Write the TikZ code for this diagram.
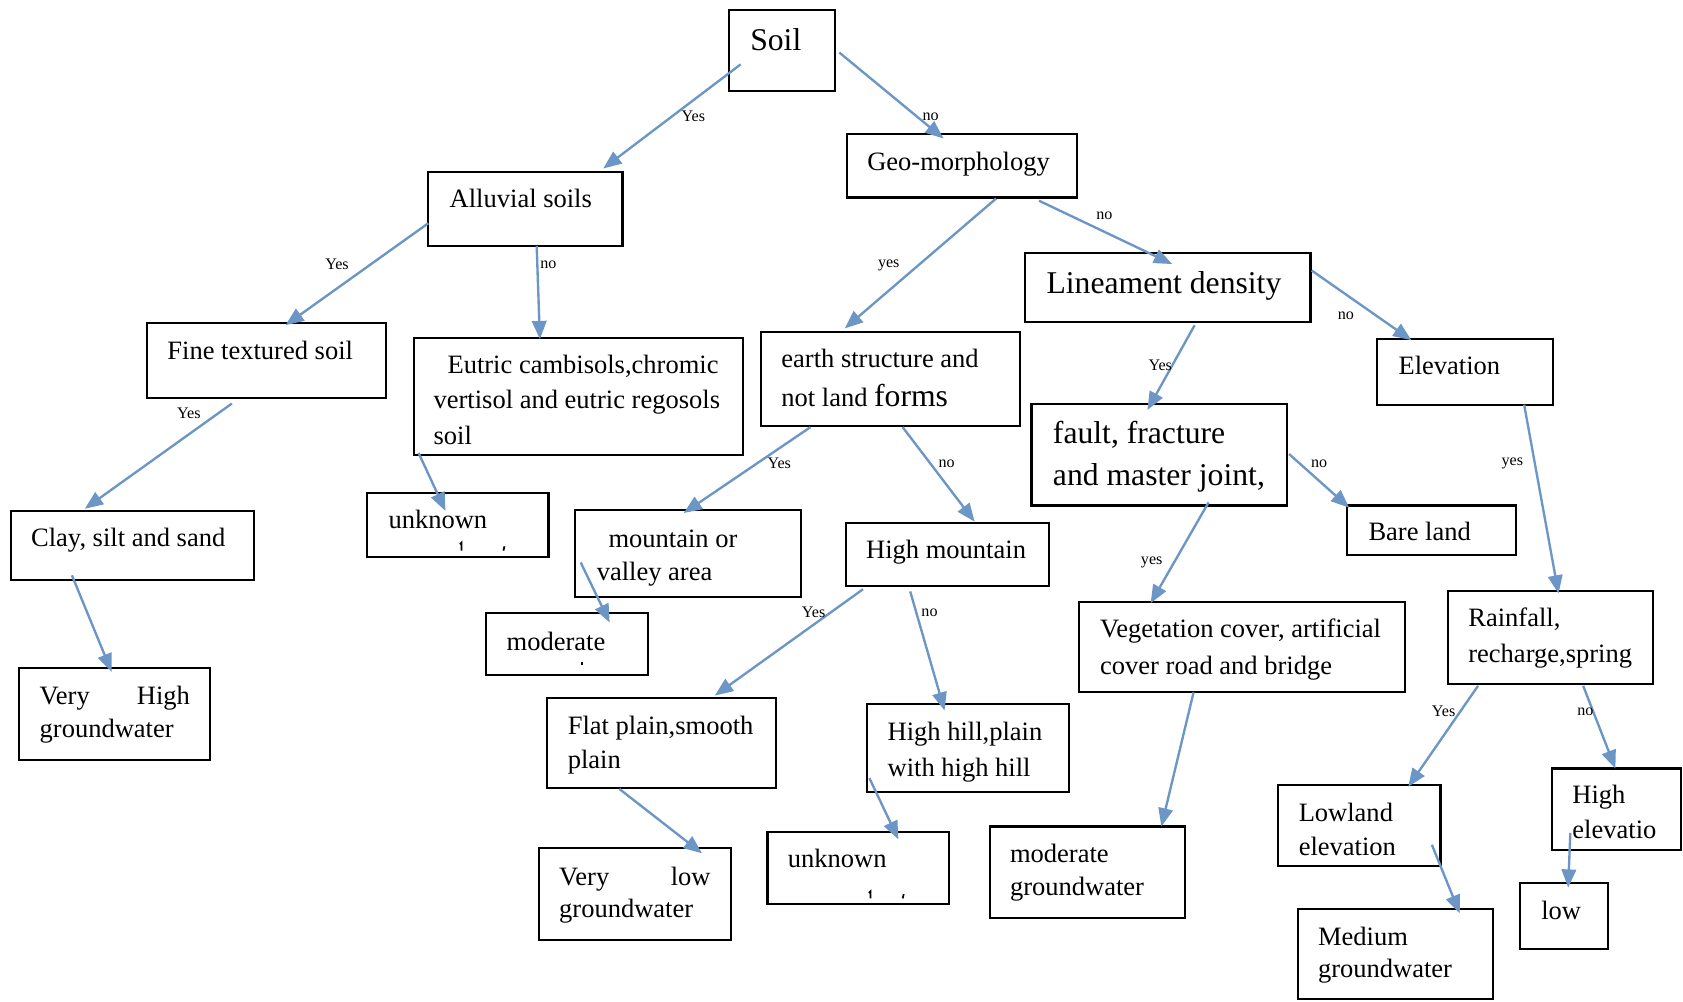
\documentclass[tikz,border=0pt]{standalone}
\usepackage{fontspec}
\setmainfont{Liberation Serif}
\usetikzlibrary{arrows.meta}
\definecolor{arrc}{RGB}{108,150,197}
\newcommand\bx[5]{\node[box,minimum width={(#4-#2)*1pt},minimum height={(#5-#3)*1pt}] (#1) at ({(#2+#4)/2},{(#3+#5)/2}) {};}
\newcommand\tl[4]{\node[txt] (#1) at (#2,#3) {#4};}
\newcommand\tb[4]{\node[bigtxt] (#1) at (#2,#3) {#4};}
\newcommand\ar[5]{\coordinate (#1s) at (#2); \coordinate (#1e) at (#3); \draw[arr] (#1s) -- (#1e); \node[lab] (#1l) at (#4) {#5};}
\newcommand\arn[3]{\coordinate (#1s) at (#2); \coordinate (#1e) at (#3); \draw[arr] (#1s) -- (#1e);}
\begin{document}
\begin{tikzpicture}[x=1pt,y=-1pt,
 box/.style={draw=black,line width=2pt,inner sep=0pt,outer sep=0pt,rectangle},
 txt/.style={inner sep=0pt,outer sep=0pt,font=\fontsize{24.7}{30}\selectfont,anchor=base west},
 bigtxt/.style={txt,font=\fontsize{29.5}{36}\selectfont},
 lab/.style={inner sep=0pt,outer sep=0pt,font=\fontsize{15}{18}\selectfont},
 arr/.style={draw=arrc,line width=2.2pt,-{Triangle[length=17pt,width=13.5pt]}},
 mk/.style={line width=1.6pt}]
\useasboundingbox (0,0) rectangle (1568,933);

% boxes
\bx{soil}{679}{9}{778}{85}
\bx{allu}{399}{160}{580}{229}
\bx{geo}{789}{125}{1003}{184}
\bx{fine}{137}{301}{360}{371}
\bx{eutric}{386}{315}{692}{424}
\bx{earth}{709}{309}{950}{397}
\bx{lin}{955}{236}{1221}{300}
\bx{elev}{1283}{316}{1447}{377}
\bx{fault}{961}{376}{1199}{471}
\bx{clay}{10}{476}{237}{540}
\bx{unkA}{342}{459}{511}{519}
\bx{mount}{536}{475}{746}{556}
\bx{highm}{788}{487}{977}{546}
\bx{bare}{1255}{471}{1412}{517}
\bx{modA}{453}{571}{604}{629}
\bx{veg}{1005}{561}{1309}{645}
\bx{rain}{1349}{551}{1540}{637}
\bx{vhigh}{18}{622}{196}{708}
\bx{flat}{510}{650}{723}{734}
\bx{hill}{808}{656}{996}{738}
\bx{lowl}{1191}{731}{1342}{807}
\bx{helev}{1446}{716}{1566}{792}
\bx{unkB}{715}{775}{884}{842}
\bx{modB}{922}{770}{1104}{855}
\bx{vlow}{502}{790}{681}{876}
\bx{med}{1209}{847}{1391}{931}
\bx{low}{1416}{823}{1498}{884}

% texts
\tb{tsoil}{699}{47}{Soil}
\tl{tallu}{419}{193}{Alluvial soils}
\tl{tgeo}{808}{159}{Geo-morphology}
\tl{tfine}{156}{335}{Fine textured soil}
\tl{teu1}{417}{348}{Eutric cambisols,chromic}
\tl{teu2}{404}{381}{vertisol and eutric regosols}
\tl{teu3}{404}{414}{soil}
\tl{tea1}{728}{342}{earth structure and}
\tl{tea2}{728}{379}{not land {\fontsize{29.5}{36}\selectfont forms}}
\tb{tlin}{975}{273}{Lineament density}
\tl{telev}{1303}{349}{Elevation}
\tb{tfa1}{981}{413}{fault, fracture}
\tb{tfa2}{981}{452}{and master joint,}
\tl{tclay}{29}{509}{Clay, silt and sand}
\tl{tunkA}{362}{492}{unknown}
\tl{tmo1}{567}{510}{mountain or}
\tl{tmo2}{556}{541}{valley area}
\tl{thighm}{807}{520}{High mountain}
\tl{tbare}{1275}{504}{Bare land}
\tl{tmodA}{472}{606}{moderate}
\tl{tveg1}{1025}{594}{Vegetation cover, artificial}
\tl{tveg2}{1025}{628}{cover road and bridge}
\tl{train1}{1368}{584}{Rainfall,}
\tl{train2}{1368}{617}{recharge,spring}
\tl{tvh1}{37}{656}{\makebox[140pt][l]{Very\hfill High}}
\tl{tvh2}{37}{687}{groundwater}
\tl{tfl1}{529}{684}{Flat plain,smooth}
\tl{tfl2}{529}{716}{plain}
\tl{thi1}{827}{690}{High hill,plain}
\tl{thi2}{827}{723}{with high hill}
\tl{tlo1}{1210}{765}{Lowland}
\tl{tlo2}{1210}{797}{elevation}
\tl{the1}{1465}{749}{High}
\tl{the2}{1465}{781}{elevatio}
\tl{tunkB}{734}{808}{unknown}
\tl{tmb1}{941}{804}{moderate}
\tl{tmb2}{941}{834}{groundwater}
\tl{tvl1}{521}{825}{\makebox[141pt][l]{Very\hfill low}}
\tl{tvl2}{521}{855}{groundwater}
\tl{tme1}{1228}{881}{Medium}
\tl{tme2}{1228}{911}{groundwater}
\tl{tlow}{1436}{857}{low}

% clipped marks
\draw[mk] (428.5,507) -- (430,505.5) -- (430,513);
\draw[mk] (470,509) -- (469,513);
\fill (541,617) rectangle (543.5,620);
\draw[mk] (809.5,832) -- (811,830.5) -- (811,837);
\draw[mk] (842,833) -- (841,837);

% arrows
\ar{a}{690,60}{562,157}{646,108}{Yes}
\ar{b}{782,49}{879,129}{867,109}{no}
\ar{c}{399,208}{266,303}{314,246}{Yes}
\ar{d}{500,229}{503,316}{511,247}{no}
\ar{e}{928,185}{787,306}{828,247}{yes}
\ar{f}{968,187}{1092,246}{1029,201}{no}
\ar{g}{1222,252}{1315,317}{1254,294}{no}
\ar{h}{1113,303}{1069,382}{1081,340}{Yes}
\ar{i}{216,376}{79,474}{176,385}{Yes}
\arn{j}{390,422}{415,476}
\ar{k}{755,398}{637,478}{726,432}{Yes}
\ar{l}{841,398}{908,486}{882,432}{no}
\ar{m}{1201,423}{1257,473}{1229,432}{no}
\ar{n}{1420,377}{1452,553}{1409,432}{yes}
\arn{o}{67,536}{104,626}
\arn{p}{541,524}{568,580}
\ar{q}{804,549}{666,648}{758,570}{Yes}
\ar{r}{848,551}{880,662}{866,571}{no}
\ar{s}{1126,468}{1072,562}{1073,524}{yes}
\arn{t}{577,735}{654,795}
\arn{u}{810,725}{837,782}
\arn{v}{1112,645}{1082,770}
\ar{w}{1377,639}{1312,733}{1345,663}{Yes}
\ar{x}{1475,639}{1505,716}{1477,663}{no}
\arn{y}{1334,787}{1360,851}
\arn{z}{1463,776}{1461,827}
\end{tikzpicture}
\end{document}
